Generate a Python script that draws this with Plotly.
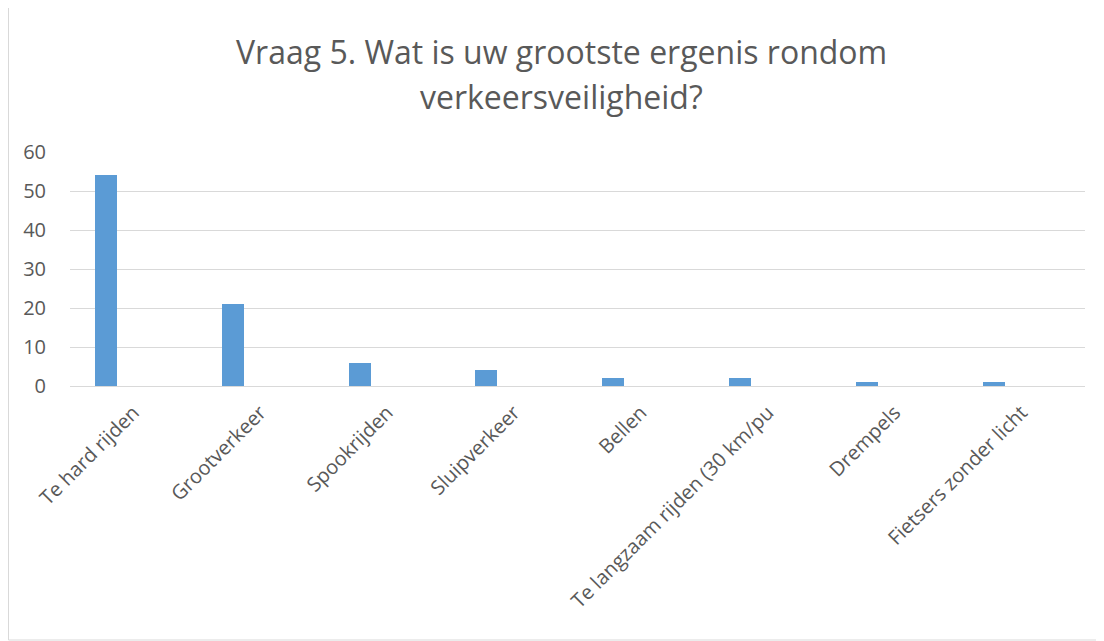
import plotly.graph_objects as go

categories = ["Te hard rijden", "Grootverkeer", "Spookrijden", "Sluipverkeer",
              "Bellen", "Te langzaam rijden (30 km/pu", "Drempels", "Fietsers zonder licht"]
values = [54, 21, 6, 4, 2, 2, 1, 1]
title_lines = ["Vraag 5. Wat is uw grootste ergenis rondom", "verkeersveiligheid?"]

FONT = "Open Sans"
GRAY = "#595959"
OFF = 8  # page body margin

W, H = 1104, 641
# target screen positions of plot area
sx0, sx1, sy0, sy1 = 70, 1085, 152, 386
L = sx0 - OFF
R = W - (sx1 - OFF)
T = sy0 - OFF
B = H - (sy1 - OFF)
pw = W - L - R
ph = H - T - B

fig = go.Figure()
fig.add_trace(go.Bar(
    x=categories, y=values,
    marker=dict(color="#5B9BD5", line=dict(width=0)),
    width=0.173, offset=-0.304,
    hoverinfo="x+y",
))

fig.update_layout(
    width=W, height=H,
    margin=dict(l=L, r=R, t=T, b=B, autoexpand=False),
    paper_bgcolor="white", plot_bgcolor="white",
    showlegend=False,
    font=dict(family=FONT, color=GRAY, size=20),
    xaxis=dict(
        type="category", tickangle=-45, showgrid=False, automargin=False,
        showline=True, linecolor="#D9D9D9", linewidth=1,
        ticks="outside", ticklen=6, tickcolor="rgba(255,255,255,0)",
        tickfont=dict(family=FONT, size=20, color=GRAY),
        range=[-0.5, len(categories) - 0.5],
    ),
    yaxis=dict(
        range=[0, 60], dtick=10, showgrid=True, gridcolor="#D9D9D9", gridwidth=1,
        zeroline=False, showline=False, automargin=False,
        ticks="outside", ticklen=19, tickcolor="rgba(255,255,255,0)",
        tickfont=dict(family=FONT, size=20, color=GRAY),
    ),
    bargap=0,
)

for line, ypix in zip(title_lines, [52, 97]):
    fig.add_annotation(
        text=line, xref="paper", yref="paper",
        x=(561 - sx0) / pw, y=(sy1 - ypix) / ph,
        xanchor="center", yanchor="middle", showarrow=False,
        font=dict(family=FONT, size=32, color=GRAY),
    )

fig.add_shape(
    type="rect", xref="paper", yref="paper",
    x0=(8.5 - sx0) / pw, x1=(1103 - sx0) / pw,
    y0=(sy1 - 640) / ph, y1=(sy1 - 0.5) / ph,
    line=dict(color="#D9D9D9", width=1), fillcolor="rgba(0,0,0,0)", layer="below",
)

fig.write_html("out.html")
